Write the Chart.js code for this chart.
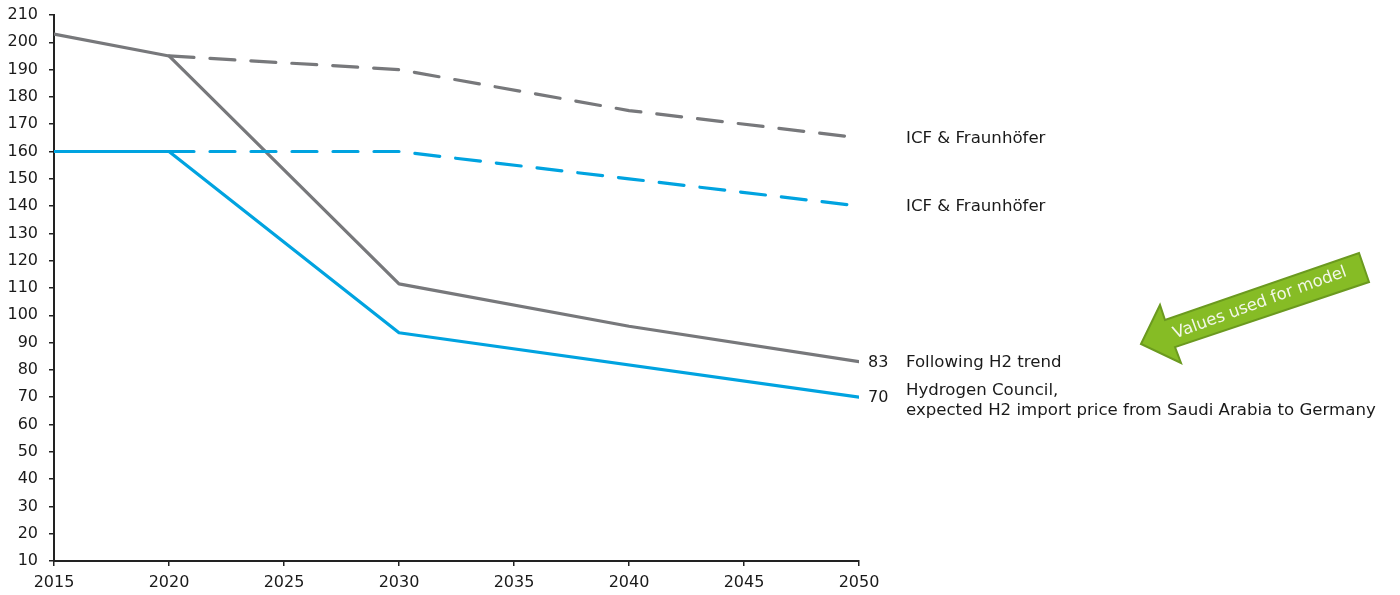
<!DOCTYPE html>
<html>
<head>
<meta charset="utf-8">
<script src="https://cdn.jsdelivr.net/npm/chart.js@4/dist/chart.umd.min.js"></script>
<style>
  html, body { margin: 0; padding: 0; background: #fff; }
  #wrap { width: 1400px; height: 595px; position: relative; }
</style>
</head>
<body>
<div id="wrap"><canvas id="c" width="1400" height="595"></canvas></div>
<script>
// ---- Data ----
const trendYears = [2015, 2020, 2030, 2040, 2050];
const trendValues = [203, 195, 111.5, 96, 83];           // Following H2 trend (grey solid)
const icfGreyYears = [2020, 2030, 2040, 2050];
const icfGreyValues = [195, 190, 175, 165];               // ICF & Fraunhöfer (grey dashed)
const councilYears = [2015, 2020, 2030, 2050];
const councilValues = [160, 160, 93.6, 70];               // Hydrogen Council (blue solid)
const icfBlueYears = [2020, 2030, 2040, 2050];
const icfBlueValues = [160, 160, 150, 140];               // ICF & Fraunhöfer (blue dashed)

const xTicks = [2015, 2020, 2025, 2030, 2035, 2040, 2045, 2050];
const yMin = 10, yMax = 210, yStep = 10;

const endLabels = [
  { value: 165, lines: ['ICF & Fraunhöfer'], num: null },
  { value: 140, lines: ['ICF & Fraunhöfer'], num: null },
  { value: 83, lines: ['Following H2 trend'], num: '83' },
  { value: 70, lines: ['Hydrogen Council,', 'expected H2 import price from Saudi Arabia to Germany'], num: '70' }
];
const arrowText = 'Values used for model';

const GREY = '#77787b';
const BLUE = '#00a3e0';
const FONT = '"DejaVu Sans", Verdana, sans-serif';

function pts(xs, ys) { return xs.map((x, i) => ({ x: x, y: ys[i] })); }

const labelsPlugin = {
  id: 'labelsPlugin',
  afterDraw(chart) {
    const ctx = chart.ctx;
    const xs = chart.scales.x, ys = chart.scales.y;
    const xEnd = xs.getPixelForValue(2050);
    ctx.save();
    ctx.fillStyle = '#1a1a1a';
    ctx.textBaseline = 'middle';
    ctx.textAlign = 'left';
    endLabels.forEach(l => {
      const y = ys.getPixelForValue(l.value) + 1;
      ctx.font = '16px ' + FONT;
      if (l.num) ctx.fillText(l.num, xEnd + 9, y);
      ctx.font = '16.6px ' + FONT;
      if (l.lines.length === 1) {
        ctx.fillText(l.lines[0], xEnd + 47, y);
      } else {
        ctx.fillText(l.lines[0], xEnd + 47, y - 8);
        ctx.fillText(l.lines[1], xEnd + 47, y + 12);
      }
    });

    // green arrow annotation
    const poly = [
      [1141, 344], [1160, 305], [1165, 320], [1359, 253],
      [1369, 282], [1175, 347], [1181, 363]
    ];
    ctx.beginPath();
    poly.forEach((p, i) => i ? ctx.lineTo(p[0], p[1]) : ctx.moveTo(p[0], p[1]));
    ctx.closePath();
    ctx.fillStyle = '#86bc25';
    ctx.fill();
    ctx.lineWidth = 2;
    ctx.strokeStyle = '#6b9a1f';
    ctx.lineJoin = 'miter';
    ctx.stroke();

    ctx.translate(1260, 303);
    ctx.rotate(-20 * Math.PI / 180);
    ctx.font = '16.5px ' + FONT;
    ctx.fillStyle = '#f2f7e8';
    ctx.textAlign = 'center';
    ctx.textBaseline = 'middle';
    ctx.fillText(arrowText, 0, 0);
    ctx.restore();
  }
};

const common = { fill: false, pointRadius: 0, pointHoverRadius: 0, borderWidth: 3.2, tension: 0, borderCapStyle: 'round', borderJoinStyle: 'round' };

new Chart(document.getElementById('c'), {
  type: 'line',
  data: {
    datasets: [
      Object.assign({ label: 'ICF & Fraunhöfer (grey)', data: pts(icfGreyYears, icfGreyValues), borderColor: GREY, borderDash: [25, 16] }, common),
      Object.assign({ label: 'ICF & Fraunhöfer (blue)', data: pts(icfBlueYears, icfBlueValues), borderColor: BLUE, borderDash: [25, 16] }, common),
      Object.assign({ label: 'Following H2 trend', data: pts(trendYears, trendValues), borderColor: GREY }, common),
      Object.assign({ label: 'Hydrogen Council', data: pts(councilYears, councilValues), borderColor: BLUE }, common)
    ]
  },
  options: {
    responsive: false,
    animation: false,
    devicePixelRatio: 1,
    layout: { padding: { top: 15, right: 541, bottom: 0, left: 0 } },
    plugins: { legend: { display: false }, tooltip: { enabled: false } },
    scales: {
      x: {
        type: 'linear',
        min: 2015, max: 2050,
        afterBuildTicks(scale) { scale.ticks = xTicks.map(v => ({ value: v })); },
        ticks: { font: { family: FONT, size: 16 }, color: '#1a1a1a', padding: 7, maxRotation: 0, autoSkip: false, callback: v => String(v) },
        grid: { display: true, drawOnChartArea: false, drawTicks: true, tickLength: 5, color: '#222', lineWidth: 1.5 },
        border: { display: true, color: '#222', width: 2 },
        afterFit(scale) { scale.height = 34; }
      },
      y: {
        min: yMin, max: yMax,
        ticks: { stepSize: yStep, font: { family: FONT, size: 16 }, color: '#1a1a1a', padding: 11 },
        grid: { display: true, drawOnChartArea: false, drawTicks: true, tickLength: 5, color: '#222', lineWidth: 1.5 },
        border: { display: true, color: '#222', width: 2 },
        afterFit(scale) { scale.width = 54; scale.paddingTop = 0; scale.paddingBottom = 0; }
      }
    }
  },
  plugins: [labelsPlugin]
});
</script>
</body>
</html>
